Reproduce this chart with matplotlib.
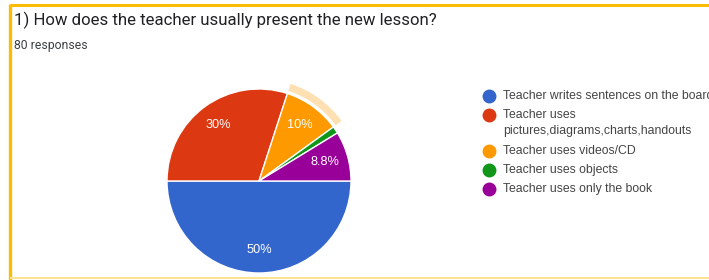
import matplotlib.pyplot as plt
from matplotlib.patches import Wedge
from matplotlib.lines import Line2D

title = "1) How does the teacher usually present the new lesson?"
subtitle = "80 responses"
labels = ["Teacher writes sentences on the board",
          "Teacher uses\npictures,diagrams,charts,handouts",
          "Teacher uses videos/CD",
          "Teacher uses objects",
          "Teacher uses only the book"]
counts = [40, 24, 8, 1, 7]
colors = ["#3366cc", "#dc3912", "#ff9900", "#109618", "#990099"]

W, H = 709, 280
fig = plt.figure(figsize=(W / 100, H / 100), dpi=100)
plt.rcParams['font.family'] = ['Roboto', 'DejaVu Sans']
chart_font = ['Liberation Sans', 'DejaVu Sans']

# pie axes: centre (259,181) px, radius 91 px
R, half = 91, 115
ax = fig.add_axes([(259 - half) / W, (H - 181 - half) / H, 2 * half / W, 2 * half / H])
ax.set_xlim(-half / R, half / R)
ax.set_ylim(-half / R, half / R)
ax.axis('off')


def fmt(p):
    if p < 5:
        return ""
    return f"{p:.0f}%" if abs(p - round(p)) < 0.05 else f"{p:.1f}%"


wedges, texts, autotexts = ax.pie(counts, colors=colors, startangle=0, counterclock=False,
                                  radius=1, autopct=fmt, pctdistance=0.75,
                                  wedgeprops=dict(edgecolor="white", linewidth=1),
                                  textprops=dict(color="white", fontsize=9.2, family=chart_font))

# hover highlight ring around the orange slice
w = wedges[2]
ax.add_patch(Wedge((0, 0), 1.11, w.theta1, w.theta2, width=0.08,
                   facecolor="#ffe0b2", edgecolor="none"))

# overlay in pixel coordinates
ov = fig.add_axes([0, 0, 1, 1], facecolor="none")
ov.set_xlim(0, W)
ov.set_ylim(H, 0)
ov.axis('off')

ov.plot([10, W], [4.5, 4.5], color="#fbbc04", lw=2.2, solid_capstyle="butt")
ov.plot([10, 10], [3.5, H], color="#fbbc04", lw=2.4, solid_capstyle="butt")
ov.plot([10, W], [278, 278], color="#fde293", lw=1.5, solid_capstyle="butt")

ov.text(14, 20, title, fontsize=12.1, color="#202124", va="center", ha="left")
ov.text(14, 46, subtitle, fontsize=8.8, color="#3c4043", va="center", ha="left")

y = 96
for lab, c in zip(labels, colors):
    ov.add_line(Line2D([489], [y], marker="o", markersize=9, color=c, linestyle="none"))
    lines = lab.split("\n")
    for i, ln in enumerate(lines):
        ov.text(503, y + 16 * i, ln, fontsize=8.85, color="#444444", va="center", ha="left",
                family=chart_font)
    y += 16 * (len(lines) - 1) + 19.3

fig.savefig("out.png", dpi=100)
